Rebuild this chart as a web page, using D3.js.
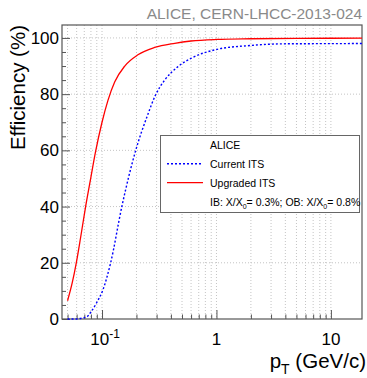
<!DOCTYPE html>
<html>
<head>
<meta charset="utf-8">
<script src="https://cdn.jsdelivr.net/npm/d3@7"></script>
<style>
  html, body { margin: 0; padding: 0; background: #fff; }
  svg { display: block; font-family: "Liberation Sans", Arial, sans-serif; }
</style>
</head>
<body>
<script>
(function(window){
    'use strict'

    // efficiency vs pT
    var ptCurrent  = [0.05, 0.06, 0.065, 0.0738, 0.08, 0.0892, 0.1017, 0.119, 0.149, 0.197, 0.25, 0.292, 0.353, 0.461, 0.604, 1, 1.96, 3.83, 18.7];
    var effCurrent = [0, 0, 0.2, 0.8, 2.5, 5.6, 10.3, 20, 40, 60, 72.5, 79.5, 85, 89.8, 92.8, 95.9, 97.3, 97.9, 98.0];
    var ptUpgraded  = [0.05, 0.055, 0.0596, 0.065, 0.0719, 0.08, 0.0873, 0.1, 0.1127, 0.129, 0.158, 0.206, 0.288, 0.432, 0.6, 1, 2, 5, 18.7];
    var effUpgraded = [6.5, 13, 20, 29, 40, 50.5, 59, 70, 77.8, 84.3, 90, 94, 96.6, 98.1, 98.9, 99.45, 99.7, 99.85, 99.9];

    var xTicks = [0.05, 0.06, 0.07, 0.08, 0.09, 0.1, 0.2, 0.3, 0.4, 0.5, 0.6, 0.7, 0.8, 0.9, 1, 2, 3, 4, 5, 6, 7, 8, 9, 10];
    var xMajor = [0.1, 1, 10];
    var yMajor = [0, 20, 40, 60, 80, 100];
    var yMinor = d3.range(0, 105, 5);

    var W = 367, H = 378;
    var frame = {left: 62, right: 362, top: 25, bottom: 319};

    var x = d3.scaleLog().domain([0.0447, 18.7]).range([frame.left, frame.right]);
    var y = d3.scaleLinear().domain([0, 104.6]).range([frame.bottom, frame.top]);

    var svg = d3.select("body").append("svg")
        .attr("width", W)
        .attr("height", H);

    // grid
    var grid = svg.append("g").attr("class", "grid");
    grid.selectAll("line.gx").data(xTicks).enter().append("line")
        .attr("x1", function(d){ return x(d); })
        .attr("x2", function(d){ return x(d); })
        .attr("y1", frame.top).attr("y2", frame.bottom)
        .attr("stroke", "#c4c4c4")
        .attr("stroke-dasharray", "1,2");
    grid.selectAll("line.gy").data(yMajor.slice(1)).enter().append("line")
        .attr("x1", frame.left).attr("x2", frame.right)
        .attr("y1", function(d){ return y(d); })
        .attr("y2", function(d){ return y(d); })
        .attr("stroke", "#c4c4c4")
        .attr("stroke-dasharray", "1,2");

    // axes (ROOT style: ticks pointing inside)
    var xAxis = d3.axisBottom(x).tickValues(xTicks).tickSizeInner(-4).tickSizeOuter(0).tickFormat("");
    svg.append("g")
        .attr("transform", "translate(0," + frame.bottom + ")")
        .call(xAxis)
        .call(function(g){
            g.select(".domain").remove();
            g.selectAll(".tick line").attr("stroke", "#555")
                .attr("y2", function(d){ return xMajor.indexOf(d) >= 0 ? -9 : -4.5; });
        });

    var yAxis = d3.axisLeft(y).tickValues(yMinor).tickSizeInner(-4).tickSizeOuter(0).tickFormat("");
    svg.append("g")
        .attr("transform", "translate(" + frame.left + ",0)")
        .call(yAxis)
        .call(function(g){
            g.select(".domain").remove();
            g.selectAll(".tick line").attr("stroke", "#555")
                .attr("x2", function(d){ return d % 20 === 0 ? 8 : 4; });
        });

    svg.append("rect")
        .attr("x", frame.left).attr("y", frame.top)
        .attr("width", frame.right - frame.left)
        .attr("height", frame.bottom - frame.top)
        .attr("fill", "none")
        .attr("stroke", "#555")
        .attr("stroke-width", 1.2);

    // tick labels
    svg.append("g").selectAll("text").data(yMajor).enter().append("text")
        .attr("x", frame.left - 3)
        .attr("y", function(d){ return y(d) + 6; })
        .attr("text-anchor", "end")
        .attr("font-size", 17)
        .text(function(d){ return d; });

    var xl = svg.append("g").selectAll("text").data(xMajor).enter().append("text")
        .attr("x", function(d){ return x(d); })
        .attr("y", 345)
        .attr("text-anchor", "middle")
        .attr("font-size", 17);
    xl.each(function(d){
        var t = d3.select(this);
        if (d < 1) {
            t.append("tspan").text("10");
            t.append("tspan").attr("dy", -7).attr("font-size", 12).text("-1");
            t.attr("x", x(d) + 3);
        } else {
            t.text(d);
        }
    });

    // curves
    var line = d3.line()
        .x(function(d){ return x(d[0]); })
        .y(function(d){ return y(d[1]); })
        .curve(d3.curveMonotoneX);

    var plot = svg.append("g");
    plot.append("path")
        .datum(d3.zip(ptCurrent, effCurrent))
        .attr("d", line)
        .attr("fill", "none")
        .attr("stroke", "#0000ff")
        .attr("stroke-width", 1.4)
        .attr("stroke-dasharray", "2,2");
    plot.append("path")
        .datum(d3.zip(ptUpgraded, effUpgraded))
        .attr("d", line)
        .attr("fill", "none")
        .attr("stroke", "#ff0000")
        .attr("stroke-width", 1.3);

    // axis titles
    svg.append("text")
        .attr("transform", "translate(25," + frame.top + ") rotate(-90)")
        .attr("text-anchor", "end")
        .attr("font-size", 20.5)
        .text("Efficiency (%)");

    var xt = svg.append("text")
        .attr("x", 366)
        .attr("y", 368)
        .attr("text-anchor", "end")
        .attr("font-size", 20.5);
    xt.append("tspan").text("p");
    xt.append("tspan").attr("dy", 6).attr("font-size", 14).text("T");
    xt.append("tspan").attr("dy", -6).text(" (GeV/c)");

    svg.append("text")
        .attr("x", 362)
        .attr("y", 19)
        .attr("text-anchor", "end")
        .attr("font-size", 15.5)
        .attr("fill", "#8a8a8a")
        .text("ALICE, CERN-LHCC-2013-024");

    // legend
    var lg = svg.append("g");
    lg.append("rect")
        .attr("x", 160.5).attr("y", 135.5)
        .attr("width", 199).attr("height", 77)
        .attr("fill", "#fff")
        .attr("stroke", "#666");
    lg.append("text").attr("x", 210).attr("y", 149).attr("font-size", 10.5).text("ALICE");
    lg.append("line").attr("x1", 167).attr("x2", 203).attr("y1", 163.7).attr("y2", 163.7)
        .attr("stroke", "#0000ff").attr("stroke-width", 1.4).attr("stroke-dasharray", "2,2");
    lg.append("text").attr("x", 210).attr("y", 168).attr("font-size", 10.5).text("Current ITS");
    lg.append("line").attr("x1", 167).attr("x2", 203).attr("y1", 182.7).attr("y2", 182.7)
        .attr("stroke", "#ff0000").attr("stroke-width", 1.3);
    lg.append("text").attr("x", 210).attr("y", 187).attr("font-size", 10.5).text("Upgraded ITS");
    var ib = lg.append("text").attr("x", 210).attr("y", 206).attr("font-size", 10.5);
    ib.append("tspan").text("IB: X/X");
    ib.append("tspan").attr("dy", 3).attr("font-size", 7).text("0");
    ib.append("tspan").attr("dy", -3).text("= 0.3%; OB: X/X");
    ib.append("tspan").attr("dy", 3).attr("font-size", 7).text("0");
    ib.append("tspan").attr("dy", -3).text("= 0.8%");

})(window);
</script>
</body>
</html>
